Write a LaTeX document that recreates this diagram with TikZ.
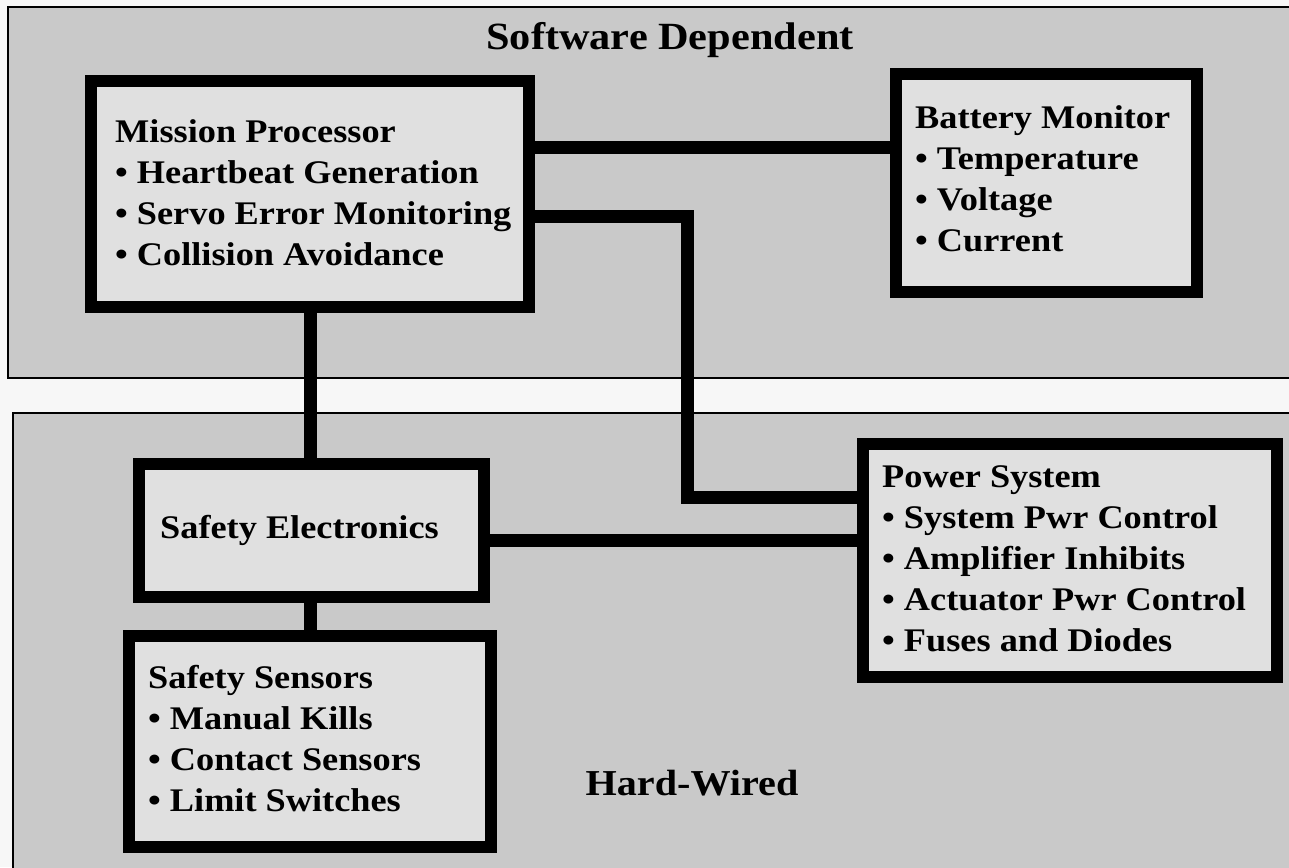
\documentclass[tikz,border=0pt]{standalone}
\usepackage{fontspec}
\setmainfont{Liberation Serif}[FakeStretch=1.1]
\definecolor{paper}{gray}{0.97}
\definecolor{region}{gray}{0.79}
\definecolor{boxfill}{gray}{0.88}
\tikzset{
  region/.style={fill=region, draw=black, line width=1.5pt},
  blockbox/.style={draw=black, fill=boxfill, line width=12pt, inner sep=0pt, rectangle},
  link/.style={draw=black, line width=13pt, line join=miter},
  txt/.style={inner sep=0pt, anchor=base west, font=\fontsize{33}{41}\selectfont\bfseries},
  title/.style={inner sep=0pt, anchor=base, font=\bfseries}
}
\newcommand{\lines}[1]{\begin{tabular}[t]{@{}l@{}}#1\end{tabular}}
\begin{document}
\begin{tikzpicture}[x=1pt,y=-1pt]
\useasboundingbox (0,0) rectangle (1289,867);
\fill[paper] (0,0) rectangle (1289,867);
% regions
\path[region] (8,7) rectangle (1300,378);
\path[region] (13,413) rectangle (1300,880);
% titles
\node[title, font=\fontsize{38.5}{45}\selectfont\bfseries] (sw) at (670,50) {Software Dependent};
\node[title, font=\fontsize{36.5}{43}\selectfont\bfseries] (hw) at (692,795) {Hard-Wired};
% boxes
\node[blockbox, minimum width=438pt, minimum height=226pt] (MP) at (310,194) {};
\node[blockbox, minimum width=301pt, minimum height=218pt] (BM) at (1046.5,183) {};
\node[blockbox, minimum width=414pt, minimum height=233pt] (PS) at (1070,560.5) {};
\node[blockbox, minimum width=345pt, minimum height=133pt] (SE) at (311.5,530.5) {};
\node[blockbox, minimum width=362pt, minimum height=211pt] (SS) at (310,741.5) {};
% link helper coordinates
\coordinate (l1) at (700,147);
\coordinate (b1) at (687,216);
\coordinate (b2) at (687,497);
\coordinate (l3) at (700,540);
% connectors
\draw[link] (l1 -| MP.east) -- (l1 -| BM.west);
\draw[link] (b1 -| MP.east) -- (b1) -- (b2) -- (b2 -| PS.west);
\draw[link] (MP.south) -- (MP.south |- SE.north);
\draw[link] (SS.north |- SE.south) -- (SS.north);
\draw[link] (l3 -| SE.east) -- (l3 -| PS.west);
% texts
\node[txt] (mpt) at (115,142) {\lines{Mission Processor\\ \textbullet\ Heartbeat Generation\\ \textbullet\ Servo Error Monitoring\\ \textbullet\ Collision Avoidance}};
\node[txt] (bmt) at (915,128) {\lines{Battery Monitor\\ \textbullet\ Temperature\\ \textbullet\ Voltage\\ \textbullet\ Current}};
\node[txt] (pst) at (882,487) {\lines{Power System\\ \textbullet\ System Pwr Control\\ \textbullet\ Amplifier Inhibits\\ \textbullet\ Actuator Pwr Control\\ \textbullet\ Fuses and Diodes}};
\node[txt] (set) at (160,538) {Safety Electronics};
\node[txt] (sst) at (148,688) {\lines{Safety Sensors\\ \textbullet\ Manual Kills\\ \textbullet\ Contact Sensors\\ \textbullet\ Limit Switches}};
\end{tikzpicture}
\end{document}
